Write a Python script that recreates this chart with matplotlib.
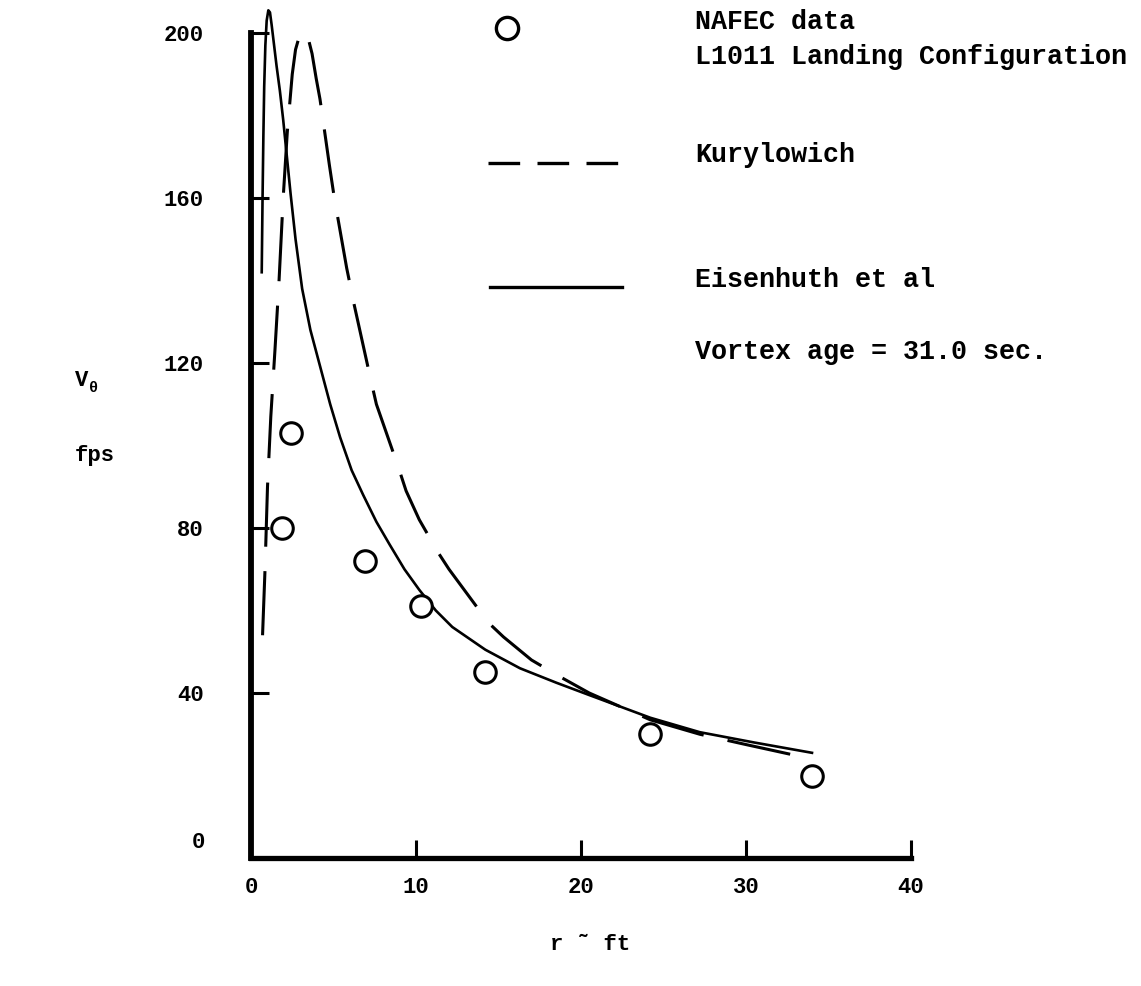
import numpy as np
import matplotlib
matplotlib.use("Agg")
import matplotlib.pyplot as plt
from matplotlib.lines import Line2D

plt.rcParams['font.family'] = ['Liberation Mono', 'DejaVu Sans Mono']
plt.rcParams['font.weight'] = 'bold'

# NAFEC measured points
r_data = [1.9, 2.4, 6.9, 10.3, 14.2, 24.2, 34.0]
v_data = [80, 103, 72, 61, 45, 30, 20]

# Eisenhuth et al curve
r_eis = [0.65, 0.7, 0.75, 0.8, 0.87, 0.95, 1.05, 1.15, 1.25, 1.4, 1.55, 1.75,
         1.95, 2.15, 2.4, 2.7, 3.1, 3.6, 4.2, 4.8, 5.4, 6.1, 6.8, 7.6, 8.4,
         9.3, 10.2, 11.2, 12.2, 14.2, 16.3, 18.5, 20.5, 24.2, 27.2, 30.5, 34.0]
v_eis = [142, 160, 175, 187, 197, 203, 205.5, 205, 202, 197, 192, 186,
         179, 171, 161, 150, 138, 128, 119, 110, 102, 94, 88, 81.5, 76,
         70, 65, 60, 56, 50.5, 46, 42.5, 39.5, 34, 30.5, 28, 25.5]

# Kurylowich curve
r_kur = [0.7, 0.85, 1.0, 1.2, 1.45, 1.7, 1.95, 2.2, 2.5, 2.7, 2.95, 3.2, 3.45,
         3.7, 3.95, 4.18, 4.36, 4.75, 5.05, 5.8, 6.26, 7.2, 7.6, 8.95, 9.4,
         10.2, 11.35, 12.0, 14.4, 15.3, 17.0, 18.7, 20.5, 24.2, 27.2, 30.0, 34.0]
v_kur = [54, 70, 90, 107, 123, 140, 160, 176, 190, 196, 199.5, 200.5, 199,
         195, 189, 184, 179, 168, 160, 143, 134, 117, 110, 94.5, 89,
         82, 74, 70, 57, 53.6, 48, 44, 40, 33.5, 30, 27.5, 24]

xticks = [0, 10, 20, 30, 40]
yticks = [0, 40, 80, 120, 160, 200]
ytick_labels = ['', '40', '80', '120', '160', '200']

W, H = 1141, 986
fig = plt.figure(figsize=(W / 100, H / 100), dpi=100)
ax = fig.add_axes([251 / W, 128 / H, 660 / W, 205 * 4.125 / H])
ax.set_xlim(0, 40)
ax.set_ylim(0, 205)

ax.plot(r_eis, v_eis, color='black', lw=1.9, clip_on=False)
ax.plot(r_kur, v_kur, color='black', lw=2.2, dashes=(21, 8), clip_on=False)
ax.plot(r_data, v_data, 'o', ms=15.5, mfc='white', mec='black', mew=2.2,
        clip_on=False, zorder=5)

for s in ['top', 'right']:
    ax.spines[s].set_visible(False)
ax.spines['left'].set_bounds(0, 200)
ax.spines['bottom'].set_bounds(0, 40)
ax.spines['left'].set_linewidth(4.2)
ax.spines['bottom'].set_linewidth(3.8)

ax.set_xticks(xticks)
ax.set_yticks(yticks)
ax.set_yticklabels(ytick_labels)
ax.tick_params(direction='in', length=13, width=2.2, labelsize=16)
ax.tick_params(axis='y', pad=34)
ax.tick_params(axis='x', pad=14)

# the zero on the y axis sits a little above the x axis line
fig.text(205 / W, 1 - 843 / H, "0", fontsize=16, va='center', ha='right')

# axis labels
fig.text(75 / W, 1 - 380 / H, "V", fontsize=16, va='center', ha='left')
fig.text(89 / W, 1 - 388 / H, "θ", fontsize=11, va='center', ha='left')
fig.text(75 / W, 1 - 455 / H, "fps", fontsize=16, va='center', ha='left')
fig.text(590 / W, 1 - 945 / H, "r ˜ ft", fontsize=16, va='center', ha='center')

# key
fs = 19.3
tx = 695 / W
fig.text(tx, 1 - 22 / H, "NAFEC data", fontsize=fs, va='center')
fig.text(tx, 1 - 57 / H, "L1011 Landing Configuration", fontsize=fs, va='center')
fig.text(tx, 1 - 155 / H, "Kurylowich", fontsize=fs, va='center')
fig.text(tx, 1 - 280 / H, "Eisenhuth et al", fontsize=fs, va='center')
fig.text(tx, 1 - 352 / H, "Vortex age = 31.0 sec.", fontsize=fs, va='center')

fig.add_artist(Line2D([507 / W], [1 - 28 / H], marker='o', ms=16, mfc='white',
                      mec='black', mew=2.4, transform=fig.transFigure))
fig.add_artist(Line2D([488 / W, 622 / W], [1 - 163 / H, 1 - 163 / H], color='black',
                      lw=2.4, dashes=(9.5, 5.2), transform=fig.transFigure))
fig.add_artist(Line2D([490 / W, 622 / W], [1 - 287 / H, 1 - 287 / H], color='black',
                      lw=2.4, transform=fig.transFigure))

fig.savefig("out.png", dpi=100)
